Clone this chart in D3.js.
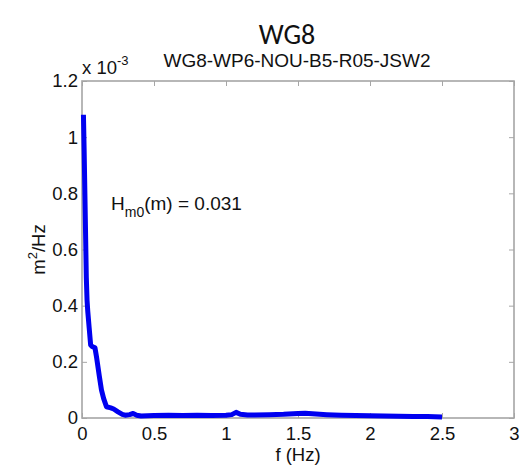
<!DOCTYPE html>
<html><head><meta charset="utf-8">
<script src="https://cdn.jsdelivr.net/npm/d3@7"></script>
<style>body{margin:0;background:#fff}svg{display:block}</style>
</head><body><div id="c"></div>
<script>
const freq = [0.01,0.015,0.02,0.025,0.03,0.035,0.04,0.05,0.06,0.07,0.09,0.1,0.12,0.135,0.15,0.17,0.2,0.22,0.25,0.28,0.3,0.33,0.355,0.38,0.41,0.5,0.6,0.7,0.8,0.9,1.0,1.04,1.07,1.1,1.15,1.2,1.3,1.4,1.5,1.55,1.6,1.7,1.8,1.9,2.0,2.1,2.2,2.3,2.4,2.5];
const psd = [1.08,0.95,0.80,0.65,0.50,0.42,0.38,0.32,0.26,0.255,0.25,0.22,0.15,0.10,0.07,0.04,0.036,0.032,0.022,0.013,0.01,0.012,0.016,0.01,0.007,0.009,0.01,0.009,0.01,0.009,0.01,0.012,0.02,0.013,0.011,0.011,0.012,0.013,0.016,0.017,0.015,0.012,0.01,0.009,0.008,0.007,0.006,0.005,0.005,0.004];
const xTicks = [0,0.5,1,1.5,2,2.5,3];
const yTicks = [0,0.2,0.4,0.6,0.8,1,1.2];
const title = "WG8", subtitle = "WG8-WP6-NOU-B5-R05-JSW2";

const W=525,H=468;
const m={l:82,r:11,t:81,b:50};
const svg=d3.select("#c").append("svg").attr("width",W).attr("height",H);
const x=d3.scaleLinear().domain([0,3]).range([m.l,W-m.r]);
const y=d3.scaleLinear().domain([0,1.2]).range([H-m.b,m.t]);
const font="'Liberation Sans',Arial,sans-serif";
const grey="#a6a6a6";

const tl=5;
const gx=svg.append("g").attr("transform",`translate(0,${y(0)})`).call(d3.axisBottom(x).tickValues(xTicks).tickSize(-tl).tickPadding(9).tickFormat(d3.format("")));
const gxt=svg.append("g").attr("transform",`translate(0,${y(1.2)})`).call(d3.axisTop(x).tickValues(xTicks).tickSize(-tl).tickFormat(""));
const gy=svg.append("g").attr("transform",`translate(${x(0)},0)`).call(d3.axisLeft(y).tickValues(yTicks).tickSize(-tl).tickPadding(4).tickFormat(d3.format("")));
const gyr=svg.append("g").attr("transform",`translate(${x(3)},0)`).call(d3.axisRight(y).tickValues(yTicks).tickSize(-tl).tickFormat(""));
[gx,gxt,gy,gyr].forEach(g=>{g.select(".domain").remove();g.selectAll("line").attr("stroke",grey).attr("stroke-width",1);g.selectAll("text").attr("font-family",font).attr("font-size",18.5).attr("fill","#111");});
gx.selectAll("text").attr("dy","0.71em");

svg.append("rect").attr("x",x(0)).attr("y",y(1.2)).attr("width",x(3)-x(0)).attr("height",y(0)-y(1.2)).attr("fill","none").attr("stroke",grey).attr("stroke-width",1.6);

const line=d3.line().x((d,i)=>x(freq[i])).y(d=>y(d));
svg.append("path").datum(psd).attr("d",line).attr("fill","none").attr("stroke","#0000f0").attr("stroke-width",5).attr("stroke-linejoin","round");

svg.append("text").attr("x",287).attr("y",44).attr("text-anchor","middle").attr("font-family","Carlito,Lato,'Open Sans',sans-serif").attr("font-size",28).attr("fill","#111").text(title);
svg.append("text").attr("x",297).attr("y",67).attr("text-anchor","middle").attr("font-family",font).attr("font-size",19).attr("fill","#111").text(subtitle);

const ex=svg.append("text").attr("x",82).attr("y",74).attr("font-family",font).attr("font-size",18.5).attr("fill","#111");
ex.append("tspan").text("x 10");
ex.append("tspan").attr("dy",-9).attr("font-size",13).text("-3");

svg.append("text").attr("x",(x(0)+x(3))/2).attr("y",461).attr("text-anchor","middle").attr("font-family",font).attr("font-size",18.5).attr("fill","#111").text("f (Hz)");
const yl=svg.append("text").attr("transform",`translate(45,${(y(0)+y(1.2))/2}) rotate(-90)`).attr("text-anchor","middle").attr("font-family",font).attr("font-size",18.5).attr("fill","#111");
yl.append("tspan").text("m");
yl.append("tspan").attr("dy",-8).attr("font-size",13).text("2");
yl.append("tspan").attr("dy",8).text("/Hz");

const an=svg.append("text").attr("x",111).attr("y",210).attr("font-family",font).attr("font-size",19).attr("fill","#111");
an.append("tspan").text("H");
an.append("tspan").attr("dy",7).attr("font-size",14).text("m0");
an.append("tspan").attr("dy",-7).text("(m) = 0.031");
</script></body></html>
